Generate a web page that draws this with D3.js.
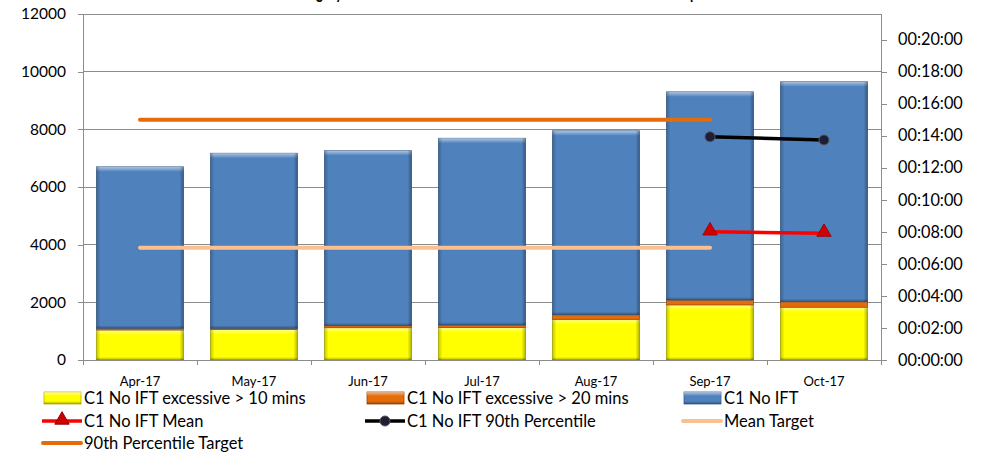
<!DOCTYPE html>
<html>
<head>
<meta charset="utf-8">
<script src="https://cdn.jsdelivr.net/npm/d3@7"></script>
<style>
  html, body { margin: 0; padding: 0; background: #fff; }
  svg { display: block; font-family: Lato, "Open Sans", sans-serif; }
</style>
</head>
<body>
<svg id="chart" width="986" height="454"></svg>
<script>
// Monthly C1 No IFT counts (stacked segments) and response-time measures
const months = ["Apr-17", "May-17", "Jun-17", "Jul-17", "Aug-17", "Sep-17", "Oct-17"];
const excessive10 = [1040, 1060, 1120, 1130, 1410, 1910, 1830];
const excessive20 = [60, 40, 70, 80, 160, 170, 190];
const noIft = [5600, 6070, 6070, 6480, 6380, 7220, 7630];
const meanTime = [null, null, null, null, null, "00:08:00", "00:07:55"];
const p90Time = [null, null, null, null, null, "00:13:56", "00:13:44"];
const meanTarget = ["00:07:00", "00:07:00", "00:07:00", "00:07:00", "00:07:00", "00:07:00", null];
const p90Target = ["00:15:00", "00:15:00", "00:15:00", "00:15:00", "00:15:00", "00:15:00", null];
const countTicks = [0, 2000, 4000, 6000, 8000, 10000, 12000];
const timeTicks = ["00:00:00", "00:02:00", "00:04:00", "00:06:00", "00:08:00", "00:10:00",
                   "00:12:00", "00:14:00", "00:16:00", "00:18:00", "00:20:00"];
const titleText = "Category 1 No IFT Mean and 90th Centile Times for the Whole Group";

const toSec = s => { if (s == null) return null; const [h, m, sec] = s.split(":").map(Number); return h * 3600 + m * 60 + sec; };
const fmt = v => { const h = Math.floor(v / 3600), m = Math.floor((v % 3600) / 60), s = Math.round(v % 60);
  return [h, m, s].map(n => String(n).padStart(2, "0")).join(":"); };

const svg = d3.select("#chart");
const L = 83, R = 881, T = 14, B = 360;

const x = d3.scaleBand().domain(months).range([L, R]).paddingInner(0.237).paddingOuter(0.1185);
const y = d3.scaleLinear().domain([0, 12000]).range([B, T]);
const yt = d3.scaleLinear().domain([0, 21.6 * 60]).range([B, T]);

// gradients for the bevelled bar look
const defs = svg.append("defs");
function grad(id, x2, y2, stops) {
  const g = defs.append("linearGradient").attr("id", id).attr("x1", 0).attr("y1", 0).attr("x2", x2).attr("y2", y2);
  stops.forEach(s => g.append("stop").attr("offset", s[0]).attr("stop-color", s[1]).attr("stop-opacity", s[2]));
}
grad("bevTop", 0, 1, [[0, "#fff", 0.55], [1, "#fff", 0]]);
grad("bevLeft", 1, 0, [[0, "#000", 0.22], [1, "#000", 0]]);
grad("bevRight", 1, 0, [[0, "#000", 0], [1, "#000", 0.3]]);
grad("bevBottom", 0, 1, [[0, "#000", 0], [1, "#000", 0.3]]);

// title: the chart's top edge crops it, leaving only the descenders in view
const title = svg.append("text").attr("y", -1.5).attr("font-weight", "bold").attr("font-size", 18)
  .attr("fill", "#000").text(titleText);
const tnode = title.node();
const gx = tnode.getStartPositionOfChar(4).x, px = tnode.getStartPositionOfChar(titleText.length - 1).x;
const k = (690 - 316) / (px - gx);
const fullW = tnode.getComputedTextLength() * k;
title.attr("x", 316 - gx * k).attr("textLength", fullW).attr("lengthAdjust", "spacingAndGlyphs");

// gridlines
svg.append("g").selectAll("line").data(countTicks).join("line")
  .attr("x1", L).attr("x2", R).attr("y1", d => y(d)).attr("y2", d => y(d))
  .attr("stroke", "#8c8c8c").attr("stroke-width", 1).attr("shape-rendering", "crispEdges");

// left axis
const axL = svg.append("g").attr("transform", `translate(${L},0)`)
  .call(d3.axisLeft(y).tickValues(countTicks).tickSize(5).tickPadding(12).tickFormat(d3.format("d")));
axL.selectAll("text").attr("font-size", 15.5).attr("fill", "#000").attr("font-family", "Lato");
axL.selectAll("line, path").attr("stroke", "#8c8c8c").attr("shape-rendering", "crispEdges");
axL.select(".domain").attr("d", `M-5,${B}H0V${T}H-5`);

// right axis
const axR = svg.append("g").attr("transform", `translate(${R},0)`)
  .call(d3.axisRight(yt).tickValues(timeTicks.map(toSec)).tickSize(6).tickPadding(11).tickFormat(fmt));
axR.selectAll("text").attr("font-size", 16.3).attr("fill", "#000").attr("font-family", "Lato");
axR.selectAll("line, path").attr("stroke", "#8c8c8c").attr("shape-rendering", "crispEdges");
axR.select(".domain").attr("d", `M0,${B}V${T}`);

// stacked bars
const stackData = months.map((m, i) => ({ month: m, e10: excessive10[i], e20: excessive20[i], base: noIft[i] }));
const series = d3.stack().keys(["e10", "e20", "base"])(stackData);
const colors = { e10: "#FFFF00", e20: "#E46C0A", base: "#4F81BD" };
const strokes = { e10: "#b5b500", e20: "#9c4a06", base: "#3a6290" };

series.forEach(s => {
  const g = svg.append("g");
  s.forEach(d => {
    const bx = x(d.data.month), bw = x.bandwidth();
    const y0 = y(d[1]), h = y(d[0]) - y(d[1]);
    g.append("rect").attr("x", bx).attr("y", y0).attr("width", bw).attr("height", h)
      .attr("fill", colors[s.key]).attr("stroke", strokes[s.key]).attr("stroke-width", 0.8);
    if (h > 8) {
      g.append("rect").attr("x", bx).attr("y", y0).attr("width", bw).attr("height", 5).attr("fill", "url(#bevTop)");
      g.append("rect").attr("x", bx).attr("y", y0).attr("width", 4).attr("height", h).attr("fill", "url(#bevLeft)");
      g.append("rect").attr("x", bx + bw - 4).attr("y", y0).attr("width", 4).attr("height", h).attr("fill", "url(#bevRight)");
      g.append("rect").attr("x", bx).attr("y", y0 + h - 3).attr("width", bw).attr("height", 3).attr("fill", "url(#bevBottom)");
    }
  });
});

// bottom axis
const step = x.step();
const bounds = d3.range(months.length + 1).map(i => L + i * step);
svg.append("line").attr("x1", L).attr("x2", R).attr("y1", B).attr("y2", B)
  .attr("stroke", "#8c8c8c").attr("shape-rendering", "crispEdges");
svg.append("g").selectAll("line").data(bounds).join("line")
  .attr("x1", d => d).attr("x2", d => d).attr("y1", B).attr("y2", B + 5)
  .attr("stroke", "#8c8c8c").attr("shape-rendering", "crispEdges");
svg.append("g").selectAll("text").data(months).join("text")
  .attr("x", d => x(d) + x.bandwidth() / 2).attr("y", 386).attr("text-anchor", "middle")
  .attr("font-size", 13).attr("fill", "#000").text(d => d);

// lines on the time axis
const cx = m => x(m) + x.bandwidth() / 2;
function lineOf(vals) {
  return months.map((m, i) => ({ m, v: toSec(vals[i]) })).filter(d => d.v != null);
}
const line = d3.line().x(d => cx(d.m)).y(d => yt(d.v));

svg.append("path").datum(lineOf(p90Target)).attr("d", line).attr("fill", "none")
  .attr("stroke", "#E46C0A").attr("stroke-width", 4).attr("stroke-linecap", "round");
svg.append("path").datum(lineOf(meanTarget)).attr("d", line).attr("fill", "none")
  .attr("stroke", "#FAC090").attr("stroke-width", 4).attr("stroke-linecap", "round");

const meanPts = lineOf(meanTime);
svg.append("path").datum(meanPts).attr("d", line).attr("fill", "none")
  .attr("stroke", "#FF0000").attr("stroke-width", 3.5);
const tri = d3.symbol().type(d3.symbolTriangle).size(90);
svg.append("g").selectAll("path").data(meanPts).join("path")
  .attr("transform", d => `translate(${cx(d.m)},${yt(d.v) - 1})`).attr("d", tri)
  .attr("fill", "#D00000").attr("stroke", "#900000").attr("stroke-width", 0.8);

const p90Pts = lineOf(p90Time);
svg.append("path").datum(p90Pts).attr("d", line).attr("fill", "none")
  .attr("stroke", "#000").attr("stroke-width", 3.5);
svg.append("g").selectAll("circle").data(p90Pts).join("circle")
  .attr("cx", d => cx(d.m)).attr("cy", d => yt(d.v)).attr("r", 5)
  .attr("fill", "#1e1e38").attr("stroke", "#555").attr("stroke-width", 1);

// legend
const legend = [
  { label: "C1 No IFT excessive > 10 mins", type: "bar", key: "e10", x: 42, y: 398 },
  { label: "C1 No IFT excessive > 20 mins", type: "bar", key: "e20", x: 365, y: 398 },
  { label: "C1 No IFT", type: "bar", key: "base", x: 682, y: 398 },
  { label: "C1 No IFT Mean", type: "tri", x: 42, y: 421 },
  { label: "C1 No IFT 90th Percentile", type: "dot", x: 365, y: 421 },
  { label: "Mean Target", type: "line", color: "#FAC090", x: 682, y: 421 },
  { label: "90th Percentile Target", type: "line", color: "#E46C0A", x: 42, y: 443 }
];
const lg = svg.append("g");
legend.forEach(d => {
  const g = lg.append("g").attr("transform", `translate(${d.x},${d.y})`);
  if (d.type === "bar") {
    g.append("rect").attr("x", 2).attr("y", -6).attr("width", 37).attr("height", 12)
      .attr("fill", colors[d.key]).attr("stroke", strokes[d.key]).attr("stroke-width", 0.8);
    g.append("rect").attr("x", 2).attr("y", -6).attr("width", 37).attr("height", 4).attr("fill", "url(#bevTop)");
    g.append("rect").attr("x", 2).attr("y", 3).attr("width", 37).attr("height", 3).attr("fill", "url(#bevBottom)");
  } else if (d.type === "tri") {
    g.append("line").attr("x1", 0).attr("x2", 40).attr("stroke", "#FF0000").attr("stroke-width", 3.5);
    g.append("path").attr("transform", "translate(20,-1)").attr("d", tri).attr("fill", "#D00000").attr("stroke", "#900000");
  } else if (d.type === "dot") {
    g.append("line").attr("x1", 0).attr("x2", 40).attr("stroke", "#000").attr("stroke-width", 3.5);
    g.append("circle").attr("cx", 20).attr("r", 5).attr("fill", "#1e1e38").attr("stroke", "#555");
  } else {
    g.append("line").attr("x1", 1).attr("x2", 39).attr("stroke", d.color).attr("stroke-width", 4).attr("stroke-linecap", "round");
  }
  g.append("text").attr("x", 42).attr("y", 5.5).attr("font-size", 16.5).attr("fill", "#000").text(d.label);
});
</script>
</body>
</html>
